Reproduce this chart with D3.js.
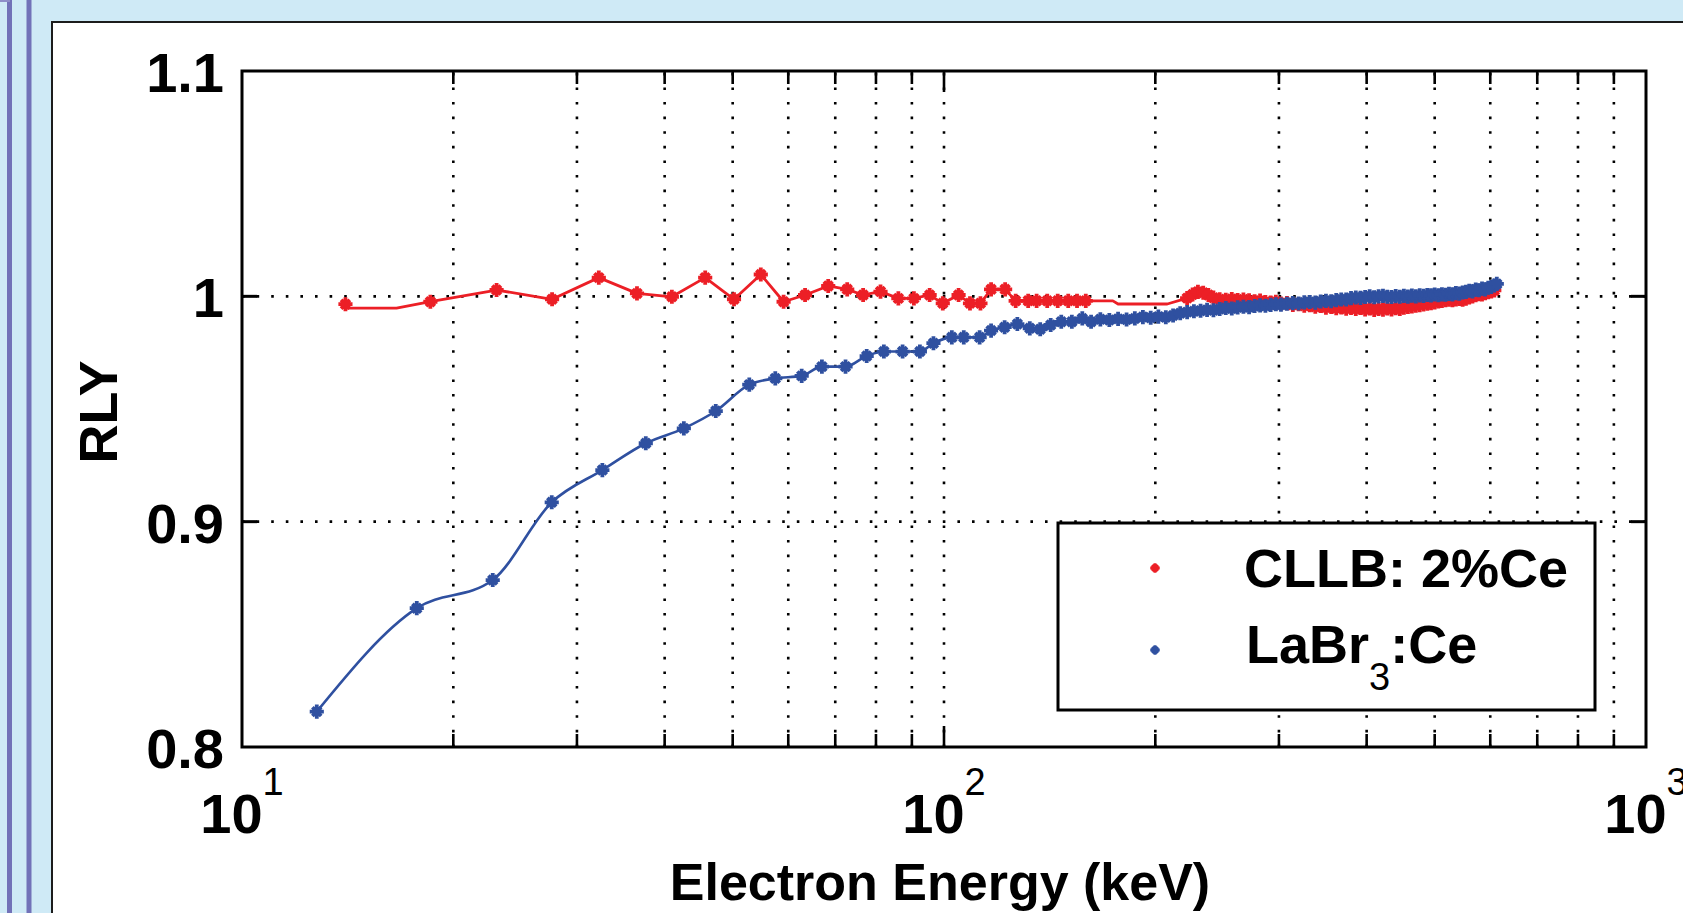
<!DOCTYPE html>
<html><head><meta charset="utf-8">
<script src="https://cdn.jsdelivr.net/npm/d3@7"></script>
<style>html,body{margin:0;padding:0;background:#cfeaf6;overflow:hidden}svg{display:block}</style>
</head><body><svg id="c" width="1683" height="913"></svg>
<script>
// ---------------- data ----------------
const xTickValues = [10, 100, 1000];
const xTickBase = "10";
const xTickExponents = ["1", "2", "3"];
const yTickValues = [0.8, 0.9, 1.0, 1.1];
const yTickLabels = ["0.8", "0.9", "1", "1.1"];
const yGridValues = [0.9, 1.0];
const xLabel = "Electron Energy (keV)";
const yLabel = "RLY";
const seriesNames = ["CLLB: 2%Ce", "LaBr3:Ce"];

// CLLB: 2%Ce markers
const cllbE = [14.04,18.55,23.05,27.65,32.23,36.53,40.96,45.69,50.22,54.83,
  59.09,63.4,68.4,72.8,76.7,81.2,86.1,90.6,95.4,99.6,
  104.9,108.9,112.7,116.7,122.2,126.5,131.8,135.5,140.3,145.2,
  150.3,154.7,159.2,
  222,226,230,234,238,242,247,252,257,262,
  267,272,277,282,287,292,297,302,308,314,
  320,326,332,338,344,350,356,362,368,374,
  380,386,392,398,404,410,416,422,428,434,
  440,446,452,458,464,470,476,482,488,494,
  500,506,512,518,524,530,536,542,548,554,
  560,566,572,578,584,590,596,602,608];
const cllbRLY = [0.9965,0.9976,1.0028,0.9987,1.0083,1.0013,0.9998,1.0083,0.9987,1.0097,
  0.9976,1.0006,1.0046,1.0031,1.0006,1.0021,0.9991,0.9991,1.0006,0.9969,
  1.0006,0.9969,0.9969,1.0031,1.0031,0.9980,0.9980,0.9980,0.9980,0.9980,
  0.9980,0.9980,0.9980,
  0.9992,1.0008,1.0020,1.0016,1.0006,0.9994,0.9987,0.9985,0.9988,0.9983,
  0.9986,0.9982,0.9978,0.9981,0.9975,0.9972,0.9976,0.9968,0.9970,0.9962,
  0.9965,0.9958,0.9961,0.9954,0.9957,0.9950,0.9953,0.9947,0.9951,0.9945,
  0.9949,0.9944,0.9948,0.9942,0.9946,0.9940,0.9944,0.9941,0.9946,0.9942,
  0.9947,0.9944,0.9950,0.9953,0.9955,0.9958,0.9961,0.9964,0.9967,0.9970,
  0.9973,0.9977,0.9980,0.9983,0.9985,0.9983,0.9986,0.9988,0.9985,0.9990,
  0.9995,1.0000,1.0005,1.0010,1.0008,1.0014,1.0018,1.0022,1.0026];
// CLLB connecting line: extra unmarked knots
const cllbFitE = [14.04, 16.6, 174, 177, 208];
const cllbFitRLY = [0.9948, 0.9948, 0.9980, 0.9966, 0.9966];

// LaBr3:Ce markers
const labrE = [12.78,17.74,22.76,27.62,32.61,37.6,42.6,47.3,52.8,57.5,
  62.7,67.0,72.4,77.6,82.1,87.3,92.4,96.6,102.6,106.7,
  112.4,116.7,122.0,127.2,132.5,137.1,141.9,146.9,152.1,157.4,
  162.0,167,172,177,182,187,192,197,202,207,
  212,217,222,227,232,237,242,247,252,257,
  262,267,272,277,282,287,292,297,302,308,
  314,320,326,332,338,344,350,356,362,368,
  374,380,386,392,398,404,410,416,422,428,
  434,440,446,452,458,464,470,476,482,488,
  494,500,506,512,518,524,530,536,542,548,
  554,560,566,572,578,584,590,596,602,608,
  613];
const labrRLY = [0.8157,0.8616,0.8741,0.9086,0.9229,0.9348,0.9414,0.9491,0.9608,0.9636,
  0.9647,0.9688,0.9688,0.9735,0.9755,0.9755,0.9755,0.9792,0.9818,0.9818,
  0.9818,0.9848,0.9863,0.9877,0.9858,0.9854,0.9873,0.9887,0.9887,0.9902,
  0.9887,0.9898,0.9895,0.9900,0.9897,0.9902,0.9908,0.9905,0.9910,0.9907,
  0.9915,0.9925,0.9930,0.9934,0.9936,0.9940,0.9938,0.9944,0.9948,0.9946,
  0.9951,0.9954,0.9952,0.9957,0.9960,0.9958,0.9962,0.9965,0.9963,0.9967,
  0.9970,0.9968,0.9973,0.9975,0.9972,0.9977,0.9980,0.9978,0.9983,0.9986,
  0.9986,0.9992,0.9995,0.9993,0.9997,1.0000,0.9996,1.0000,1.0002,0.9998,
  0.9997,1.0001,0.9998,1.0002,0.9999,1.0003,1.0000,1.0004,1.0002,1.0006,
  1.0004,1.0008,1.0005,1.0009,1.0007,1.0011,1.0009,1.0014,1.0012,1.0017,
  1.0020,1.0025,1.0022,1.0030,1.0027,1.0034,1.0031,1.0038,1.0042,1.0048,
  1.0055];

// ---------------- layout / style ----------------
const W = 1683, H = 913;
const X0 = 242, X1 = 1646, Y0 = 747, Y1 = 71;
const RED = "#ec1f26", BLUE = "#2f50a0";
const FONT = "'Liberation Sans', Arial, Helvetica, sans-serif";

const svg = d3.select("#c");
svg.append("rect").attr("width", W).attr("height", H).attr("fill", "#cfeaf6");
// decorative page strips on the left
svg.append("rect").attr("x", 7).attr("y", 0).attr("width", 5).attr("height", H).attr("fill", "#7272b8");
svg.append("rect").attr("x", 26.5).attr("y", 0).attr("width", 5).attr("height", H).attr("fill", "#7272b8");
svg.append("rect").attr("x", 0).attr("y", 0).attr("width", 10).attr("height", 2).attr("fill", "#8e8ec8");
// white figure panel
svg.append("rect").attr("x", 52).attr("y", 22).attr("width", W).attr("height", H)
  .attr("fill", "#ffffff").attr("stroke", "#1c1c1c").attr("stroke-width", 2);

const x = d3.scaleLog().domain([10, 1000]).range([X0, X1]);
const y = d3.scaleLinear().domain([0.8, 1.1]).range([Y0, Y1]);

// grid
const allXTicks = x.ticks();
const gridX = allXTicks.filter(t => t > 10 && t < 1000);
const grid = svg.append("g").attr("stroke", "#000").attr("stroke-width", 2.6)
  .attr("stroke-dasharray", "2.6 12");
grid.selectAll("line.gx").data(gridX).join("line").attr("class", "gx")
  .attr("x1", d => x(d)).attr("x2", d => x(d)).attr("y1", Y0).attr("y2", Y1);
grid.selectAll("line.gy").data(yGridValues).join("line").attr("class", "gy")
  .attr("x1", X0).attr("x2", X1).attr("y1", d => y(d)).attr("y2", d => y(d));

// data series
function zip(a, b) { return d3.zip(a, b).map(([e, r]) => ({ e, r })); }
const cllb = zip(cllbE, cllbRLY);
const labr = zip(labrE, labrRLY);
const cllbLine = cllb.slice(1).concat(zip(cllbFitE, cllbFitRLY)).sort((a, b) => a.e - b.e);

const starMarker = {
  draw(ctx, size) {
    const r = Math.sqrt(size) / 2, d = r * 0.62;
    ctx.moveTo(-r, 0); ctx.lineTo(r, 0);
    ctx.moveTo(0, -r); ctx.lineTo(0, r);
    ctx.moveTo(-d, -d); ctx.lineTo(d, d);
    ctx.moveTo(-d, d); ctx.lineTo(d, -d);
  }
};
const markerPath = d3.symbol().type(starMarker).size(200)();
const markerPathSmall = d3.symbol().type(starMarker).size(90)();

const lineLinear = d3.line().x(d => x(d.e)).y(d => y(d.r));
const lineSmooth = d3.line().x(d => x(d.e)).y(d => y(d.r)).curve(d3.curveMonotoneX);

function drawSeries(lineData, pts, color, gen, lw) {
  const g = svg.append("g");
  g.append("path").attr("d", gen(lineData)).attr("fill", "none")
    .attr("stroke", color).attr("stroke-width", lw).attr("stroke-linejoin", "round");
  g.selectAll("path.m").data(pts).join("path").attr("class", "m")
    .attr("d", markerPath)
    .attr("transform", d => `translate(${x(d.e)},${y(d.r)})`)
    .attr("fill", "none").attr("stroke", color).attr("stroke-width", 3.8);
}
drawSeries(cllbLine, cllb, RED, lineLinear, 2.8);
drawSeries(labr, labr, BLUE, lineSmooth, 2.6);

// axes frame + ticks
const axG = svg.append("g").attr("stroke", "#000");
axG.append("rect").attr("x", X0).attr("y", Y1).attr("width", X1 - X0).attr("height", Y0 - Y1)
  .attr("fill", "none").attr("stroke-width", 3);
const isMajor = t => Math.abs(Math.log10(t) - Math.round(Math.log10(t))) < 1e-9;
const tickX = allXTicks.filter(t => t > 10 && t < 1000);
axG.selectAll("line.tb").data(tickX).join("line").attr("class", "tb")
  .attr("x1", d => x(d)).attr("x2", d => x(d)).attr("y1", Y0)
  .attr("y2", d => Y0 - (isMajor(d) ? 21 : 13)).attr("stroke-width", 2.6);
axG.selectAll("line.tt").data(tickX).join("line").attr("class", "tt")
  .attr("x1", d => x(d)).attr("x2", d => x(d)).attr("y1", Y1)
  .attr("y2", d => Y1 + (isMajor(d) ? 21 : 13)).attr("stroke-width", 2.6);
axG.selectAll("line.tl").data(yGridValues).join("line").attr("class", "tl")
  .attr("x1", X0).attr("x2", X0 + 15).attr("y1", d => y(d)).attr("y2", d => y(d)).attr("stroke-width", 3);
axG.selectAll("line.tr").data(yGridValues).join("line").attr("class", "tr")
  .attr("x1", X1).attr("x2", X1 - 15).attr("y1", d => y(d)).attr("y2", d => y(d)).attr("stroke-width", 3);

// tick labels
const txt = svg.append("g").attr("font-family", FONT).attr("fill", "#000");
txt.selectAll("text.yl").data(d3.zip(yTickValues, yTickLabels)).join("text").attr("class", "yl")
  .attr("x", 224).attr("y", d => y(d[0]) + 21).attr("text-anchor", "end")
  .attr("font-size", 56).attr("font-weight", "bold").text(d => d[1]);
const xl = txt.selectAll("text.xl").data(d3.zip(xTickValues, xTickExponents)).join("text").attr("class", "xl")
  .attr("x", d => x(d[0])).attr("y", 833).attr("text-anchor", "middle")
  .attr("font-size", 56).attr("font-weight", "bold");
xl.append("tspan").text(xTickBase);
xl.append("tspan").attr("dy", -38).attr("font-size", 38).attr("font-weight", "normal").text(d => d[1]);

// axis labels
txt.append("text").attr("x", 940).attr("y", 900).attr("text-anchor", "middle")
  .attr("font-size", 52).attr("font-weight", "bold").text(xLabel);
txt.append("text").attr("transform", "translate(117,412) rotate(-90)").attr("text-anchor", "middle")
  .attr("font-size", 54).attr("font-weight", "bold").text(yLabel);

// legend
const lg = svg.append("g");
lg.append("rect").attr("x", 1058).attr("y", 523).attr("width", 537).attr("height", 187)
  .attr("fill", "#fff").attr("stroke", "#000").attr("stroke-width", 3);
const legendRows = [
  { name: seriesNames[0], color: RED, yy: 568 },
  { name: seriesNames[1], color: BLUE, yy: 650 }
];
legendRows.forEach(r => {
  lg.append("path").attr("d", markerPathSmall).attr("transform", `translate(1155,${r.yy})`)
    .attr("fill", "none").attr("stroke", r.color).attr("stroke-width", 3);
});
const lt = lg.append("g").attr("font-family", FONT).attr("font-size", 54).attr("font-weight", "bold");
lt.append("text").attr("x", 1244).attr("y", 587).text(seriesNames[0]);
const t2 = lt.append("text").attr("x", 1246).attr("y", 663);
const m = seriesNames[1].match(/^(\D+)(\d)(.*)$/);
t2.append("tspan").text(m[1]);
t2.append("tspan").attr("dy", 27).attr("font-size", 38).attr("font-weight", "normal").text(m[2]);
t2.append("tspan").attr("dy", -27).text(m[3]);
</script>
</body></html>
